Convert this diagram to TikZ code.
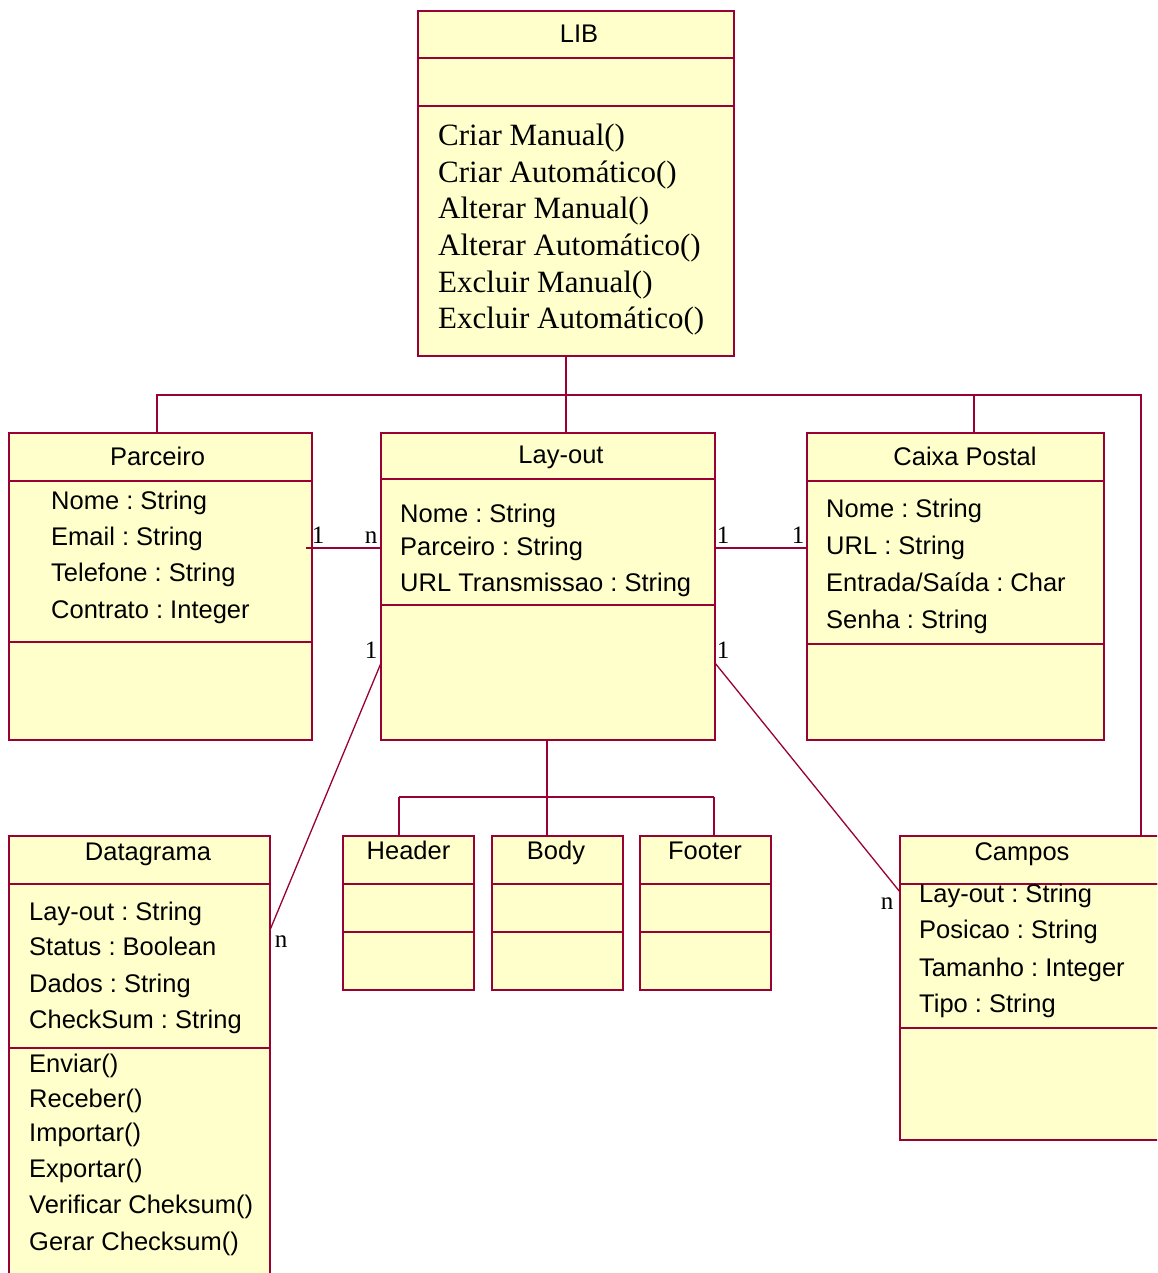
\documentclass[tikz,border=0pt]{standalone}
\usepackage{fontspec}
\setmainfont{Liberation Sans}
\newfontfamily\multfont{Liberation Serif}
\usepackage{tikz}
\usetikzlibrary{positioning}
\frenchspacing
\definecolor{umlline}{RGB}{153,0,51}
\definecolor{umlfill}{RGB}{255,255,204}
\tikzset{
  part/.style={draw=umlline, fill=umlfill, line width=1.3pt, anchor=north west,
    inner sep=0pt, outer sep=0pt},
  assoc/.style={draw=umlline, line width=1.3pt},
  ttl/.style={anchor=base, inner sep=0pt, font=\fontsize{25.5}{30}\selectfont},
  attr/.style={anchor=base west, inner sep=0pt, font=\fontsize{25.5}{30}\selectfont},
  oper/.style={anchor=base west, inner sep=0pt, font=\multfont\fontsize{31}{37}\selectfont},
  mult/.style={anchor=base, inner sep=0pt, font=\multfont\fontsize{25}{30}\selectfont}
}

\begin{document}
\begin{tikzpicture}[x=1pt,y=-1pt]
\useasboundingbox (0,0) rectangle (1157,1273);
\clip (0,0) rectangle (1157,1273);

% LIB
\node[part, minimum width=316pt, minimum height=47pt] (libT) at (418,11) {};
\node[part, minimum width=316pt, minimum height=48pt] (libA) at (libT.south west) {};
\node[part, minimum width=316pt, minimum height=250pt] (libO) at (libA.south west) {};
\node[ttl] (libName) at (579,43) {LIB};
\foreach \y/\txt [count=\i] in {146/Criar Manual(), 183/Criar Automático(), 219/Alterar Manual(),
    255/Alterar Automático(), 292/Excluir Manual(), 328/Excluir Automático()} {
  \node[oper] (libOp\i) at (438,\y) {\txt};
}

% Parceiro
\node[part, minimum width=303pt, minimum height=48pt] (parT) at (9,433) {};
\node[part, minimum width=303pt, minimum height=161pt] (parA) at (parT.south west) {};
\node[part, minimum width=303pt, minimum height=98pt] (parO) at (parA.south west) {};
\node[ttl] (parName) at (157.5,465) {Parceiro};
\foreach \y/\txt [count=\i] in {509/Nome : String, 545/Email : String,
    581/Telefone : String, 618/Contrato : Integer} {
  \node[attr] (parAt\i) at (51,\y) {\txt};
}

% Lay-out
\node[part, minimum width=334pt, minimum height=46pt] (layT) at (381,433) {};
\node[part, minimum width=334pt, minimum height=126pt] (layA) at (layT.south west) {};
\node[part, minimum width=334pt, minimum height=135pt] (layO) at (layA.south west) {};
\node[ttl] (layName) at (561,463) {Lay-out};
\foreach \y/\txt [count=\i] in {522/Nome : String, 555/Parceiro : String,
    591/URL Transmissao : String} {
  \node[attr] (layAt\i) at (400,\y) {\txt};
}

% Caixa Postal
\node[part, minimum width=297pt, minimum height=48pt] (caiT) at (807,433) {};
\node[part, minimum width=297pt, minimum height=163pt] (caiA) at (caiT.south west) {};
\node[part, minimum width=297pt, minimum height=96pt] (caiO) at (caiA.south west) {};
\node[ttl] (caiName) at (965,465) {Caixa Postal};
\foreach \y/\txt [count=\i] in {517/Nome : String, 554/URL : String,
    591/{Entrada/Saída : Char}, 628/Senha : String} {
  \node[attr] (caiAt\i) at (826,\y) {\txt};
}

% Datagrama
\node[part, minimum width=261pt, minimum height=48pt] (datT) at (9,836) {};
\node[part, minimum width=261pt, minimum height=164pt] (datA) at (datT.south west) {};
\node[part, minimum width=261pt, minimum height=250pt] (datO) at (datA.south west) {};
\node[ttl] (datName) at (148,860) {Datagrama};
\foreach \y/\txt [count=\i] in {920/Lay-out : String, 955/Status : Boolean,
    992/Dados : String, 1028/CheckSum : String} {
  \node[attr] (datAt\i) at (29,\y) {\txt};
}
\foreach \y/\txt [count=\i] in {1072/Enviar(), 1107/Receber(), 1141/Importar(),
    1177/Exportar(), 1213/Verificar Cheksum(), 1250/Gerar Checksum()} {
  \node[attr] (datOp\i) at (29,\y) {\txt};
}

% Header, Body, Footer
\foreach \nm/\x/\cx/\txt in {hdr/343/408.5/Header, bod/492/556/Body, ftr/640/705/Footer} {
  \node[part, minimum width=131pt, minimum height=48pt] (\nm T) at (\x,836) {};
  \node[part, minimum width=131pt, minimum height=48pt] (\nm A) at (\nm T.south west) {};
  \node[part, minimum width=131pt, minimum height=58pt] (\nm O) at (\nm A.south west) {};
  \node[ttl] (\nm Name) at (\cx,859) {\txt};
}

% Campos
\node[part, minimum width=270pt, minimum height=48pt] (camT) at (900,836) {};
\node[part, minimum width=270pt, minimum height=144pt] (camA) at (camT.south west) {};
\node[part, minimum width=270pt, minimum height=112pt] (camO) at (camA.south west) {};
\node[ttl] (camName) at (1022,860) {Campos};
\foreach \y/\txt [count=\i] in {902/Lay-out : String, 938/Posicao : String,
    976/Tamanho : Integer, 1012/Tipo : String} {
  \node[attr] (camAt\i) at (919,\y) {\txt};
}

% bus under LIB
\coordinate (jLib) at (566,395);
\coordinate (jPar) at (157,395);
\coordinate (jCai) at (974,395);
\coordinate (jCam) at (1141,395);
\draw[assoc] (libO.south -| jLib) -- (jLib) -- (layT.north -| jLib);
\draw[assoc] (parT.north -| jPar) -- (jPar) -- (jCai) -- (caiT.north -| jCai);
\draw[assoc] (jCai) -- (jCam) -- (camT.north -| jCam);

% bus under Lay-out
\coordinate (jBus) at (547,797);
\coordinate (jHdr) at (399,797);
\coordinate (jFtr) at (714,797);
\draw[assoc] (layO.south -| jBus) -- (bodT.north -| jBus);
\draw[assoc] (jHdr) -- (jFtr);
\draw[assoc] (jHdr) -- (hdrT.north -| jHdr);
\draw[assoc] (jFtr) -- (ftrT.north -| jFtr);

% associations
\coordinate (aPar) at (306,548);
\coordinate (aCai) at (715,548);
\coordinate (aDat1) at (381,663);
\coordinate (aDat2) at (270,930);
\coordinate (aCam1) at (715,663);
\coordinate (aCam2) at (900,892);
\draw[assoc] (aPar) -- (aPar -| layA.west);
\draw[assoc] (aCai) -- (aCai -| caiA.west);
\draw[assoc] (aDat1) -- (aDat2);
\draw[assoc] (aCam1) -- (aCam2);

\node[mult] (m1) at (318,543) {1};
\node[mult] (m2) at (371,543) {n};
\node[mult] (m3) at (723,543) {1};
\node[mult] (m4) at (798,543) {1};
\node[mult] (m5) at (371,658) {1};
\node[mult] (m6) at (723,658) {1};
\node[mult] (m7) at (281,947) {n};
\node[mult] (m8) at (887,909) {n};
\end{tikzpicture}
\end{document}
